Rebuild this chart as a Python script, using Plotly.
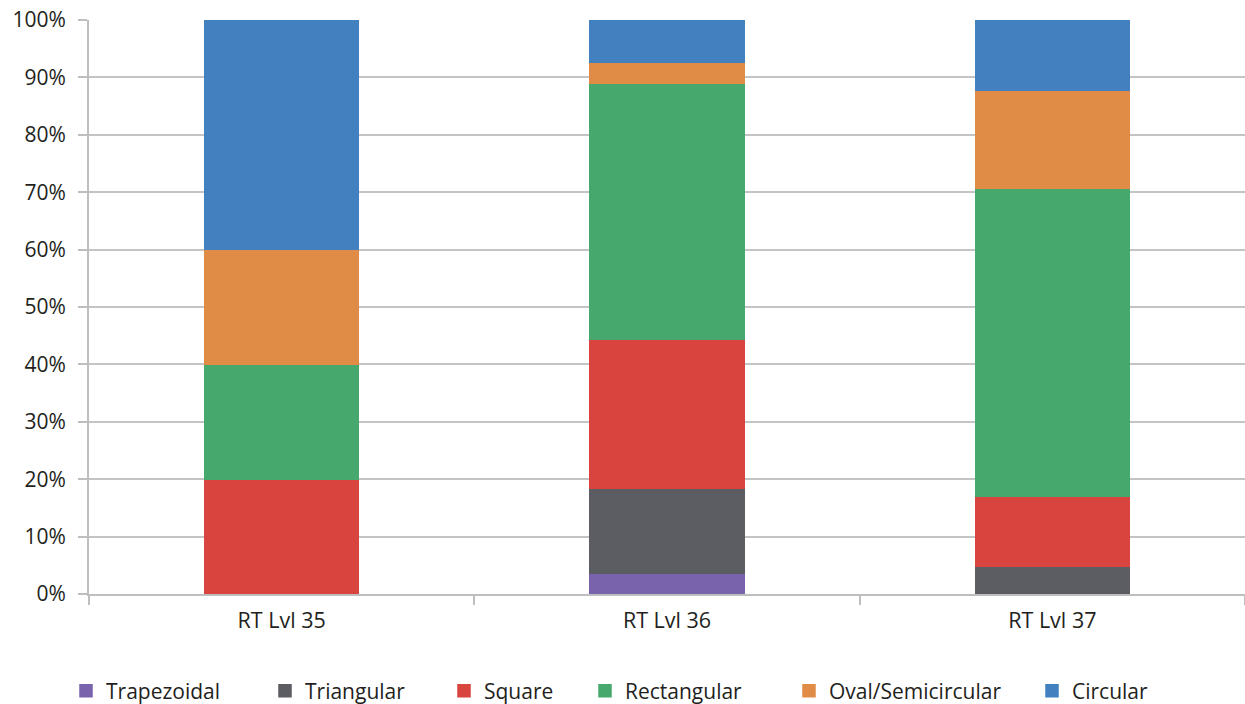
import plotly.graph_objects as go

categories = ["RT Lvl 35", "RT Lvl 36", "RT Lvl 37"]
series_names = ["Trapezoidal", "Triangular", "Square", "Rectangular", "Oval/Semicircular", "Circular"]
trapezoidal = [0.0, 3.7, 0.0]
triangular = [0.0, 14.8, 4.9]
square = [20.0, 25.9, 12.2]
rectangular = [20.0, 44.5, 53.6]
oval = [20.0, 3.7, 17.1]
circular = [40.0, 7.4, 12.2]
colors = ["#7A63AD", "#5B5D62", "#D9443F", "#46A86C", "#E08C46", "#4380BF"]
y_ticks = [0, 10, 20, 30, 40, 50, 60, 70, 80, 90, 100]
y_tick_labels = [f"{v}%" for v in y_ticks]

all_values = [trapezoidal, triangular, square, rectangular, oval, circular]
legend_x_px = [66, 265, 444, 585, 789, 1032]

font_family = "Open Sans, Noto Sans, sans-serif"
text_color = "#231F20"

fig = go.Figure()
for i, (name, vals, col) in enumerate(zip(series_names, all_values, colors)):
    lg = "legend" if i == 0 else f"legend{i+1}"
    fig.add_trace(go.Bar(
        x=categories, y=vals, name=name,
        marker=dict(color=col, line=dict(width=1.5, color=col)),
        width=0.4, legend=lg,
    ))

layout_legends = {}
for i, px in enumerate(legend_x_px):
    key = "legend" if i == 0 else f"legend{i+1}"
    layout_legends[key] = dict(
        xref="container", yref="container",
        x=px / 1245, y=1 - 691 / 704,
        xanchor="left", yanchor="middle",
        orientation="h",
        font=dict(family=font_family, size=21, color=text_color),
        bgcolor="rgba(0,0,0,0)",
        itemwidth=30,
    )

fig.update_layout(
    barmode="stack",
    width=1245, height=704,
    margin=dict(l=89, r=0, t=20, b=110, autoexpand=False),
    plot_bgcolor="white", paper_bgcolor="white",
    font=dict(family=font_family, size=21, color=text_color),
    showlegend=True,
    bargap=0.6,
    **layout_legends,
)
fig.update_xaxes(
    range=[-0.5, 2.5], automargin=False,
    showline=True, linecolor="#BEBEBE", linewidth=2,
    ticks="outside", tickson="boundaries", ticklen=9, tickcolor="#BEBEBE", tickwidth=2,
    showgrid=False,
    tickfont=dict(family=font_family, size=21.5, color=text_color),
    ticklabelstandoff=6,
)
fig.update_yaxes(
    range=[0, 100], automargin=False,
    tickvals=y_ticks, ticktext=y_tick_labels,
    showline=True, linecolor="#BEBEBE", linewidth=2,
    ticks="outside", ticklen=9, tickcolor="#BEBEBE", tickwidth=2,
    showgrid=True, gridcolor="#C4C4C4", gridwidth=2,
    zeroline=False,
    tickfont=dict(family=font_family, size=21, color=text_color),
    ticklabelstandoff=8,
)

fig.write_html(
    "out.html",
    config={"displayModeBar": False},
    post_script="document.body.style.margin='0';document.body.style.padding='0';",
)
